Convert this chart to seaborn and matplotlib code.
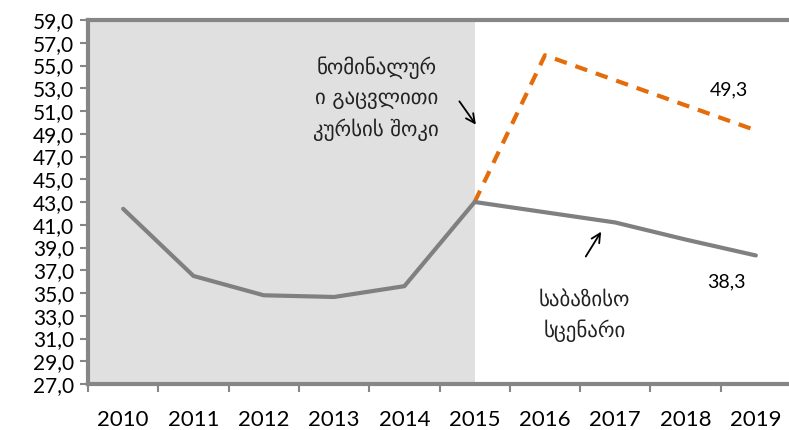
import matplotlib
matplotlib.use("Agg")
import matplotlib.pyplot as plt
import seaborn as sns
import pandas as pd
import numpy as np

years = [2010, 2011, 2012, 2013, 2014, 2015, 2016, 2017, 2018, 2019]
baseline = [42.4, 36.5, 34.8, 34.65, 35.6, 43.0, 42.1, 41.2, 39.7, 38.3]
shock_years = [2015, 2016, 2017, 2018, 2019]
shock = [43.0, 55.9, 53.7, 51.5, 49.3]
yticks = [27, 29, 31, 33, 35, 37, 39, 41, 43, 45, 47, 49, 51, 53, 55, 57, 59]
label_shock = "ნომინალურ\nი გაცვლითი\nკურსის შოკი"
label_base = "საბაზისო\nსცენარი"
label_shock_end = "49,3"
label_base_end = "38,3"

sns.set_theme(style="white")
plt.rcParams['font.family'] = ['Lato', 'DejaVu Sans']

fig = plt.figure(figsize=(7.89, 4.30), dpi=100)
ax = fig.add_axes([88/789, 1-384/430, (791-88)/789, (384-20)/430])

ax.axvspan(2009.5, 2015, color="#E0E0E0", lw=0, zorder=0)

df_b = pd.DataFrame({"year": years, "value": baseline})
df_s = pd.DataFrame({"year": shock_years, "value": shock})
sns.lineplot(data=df_s, x="year", y="value", ax=ax, color="#E46C0A", lw=3,
             linestyle=(0, (3, 2.2)), zorder=3)
sns.lineplot(data=df_b, x="year", y="value", ax=ax, color="#808080", lw=3, zorder=4)

ax.set_xlim(2009.5, 2019.5)
ax.set_ylim(27, 59)
ax.set_yticks(yticks)
ax.set_yticklabels([f"{v:.1f}".replace(".", ",") for v in yticks], fontsize=15)
ax.set_xticks(years)
ax.set_xticklabels([str(y) for y in years], fontsize=16)
ax.set_xticks([y - 0.5 for y in years], minor=True)
ax.tick_params(axis="x", which="major", length=0, pad=19, labelcolor="black")
ax.tick_params(axis="x", which="minor", length=6, width=1.5, color="#868686", direction="out", bottom=True)
ax.tick_params(axis="y", which="major", length=6, width=1.5, color="#868686", direction="out", left=True, pad=4,
               labelcolor="black")
ax.set_xlabel("")
ax.set_ylabel("")

for side in ["left", "top", "bottom"]:
    ax.spines[side].set_visible(True)
    ax.spines[side].set_color("#868686")
    ax.spines[side].set_linewidth(3)
ax.spines["right"].set_visible(False)

ax.text(2018.62, 52.9, label_shock_end, fontsize=14, ha="center", va="center", color="black")
ax.text(2018.58, 36.0, label_base_end, fontsize=14, ha="center", va="center", color="black")
ax.text(2013.6, 52.05, label_shock, fontsize=15, ha="center", va="center",
        family=["DejaVu Sans"], linespacing=1.55, color="#222222")
ax.text(2016.56, 33.0, label_base, fontsize=15, ha="center", va="center",
        family=["DejaVu Sans"], linespacing=1.55, color="#222222")

ax.annotate("", xy=(2015.04, 49.6), xytext=(2014.76, 52.05),
            arrowprops=dict(arrowstyle="->", color="black", lw=1.3, mutation_scale=16))
ax.annotate("", xy=(2016.82, 40.6), xytext=(2016.56, 38.0),
            arrowprops=dict(arrowstyle="->", color="black", lw=1.3, mutation_scale=16))

fig.savefig("out.png", dpi=100)
